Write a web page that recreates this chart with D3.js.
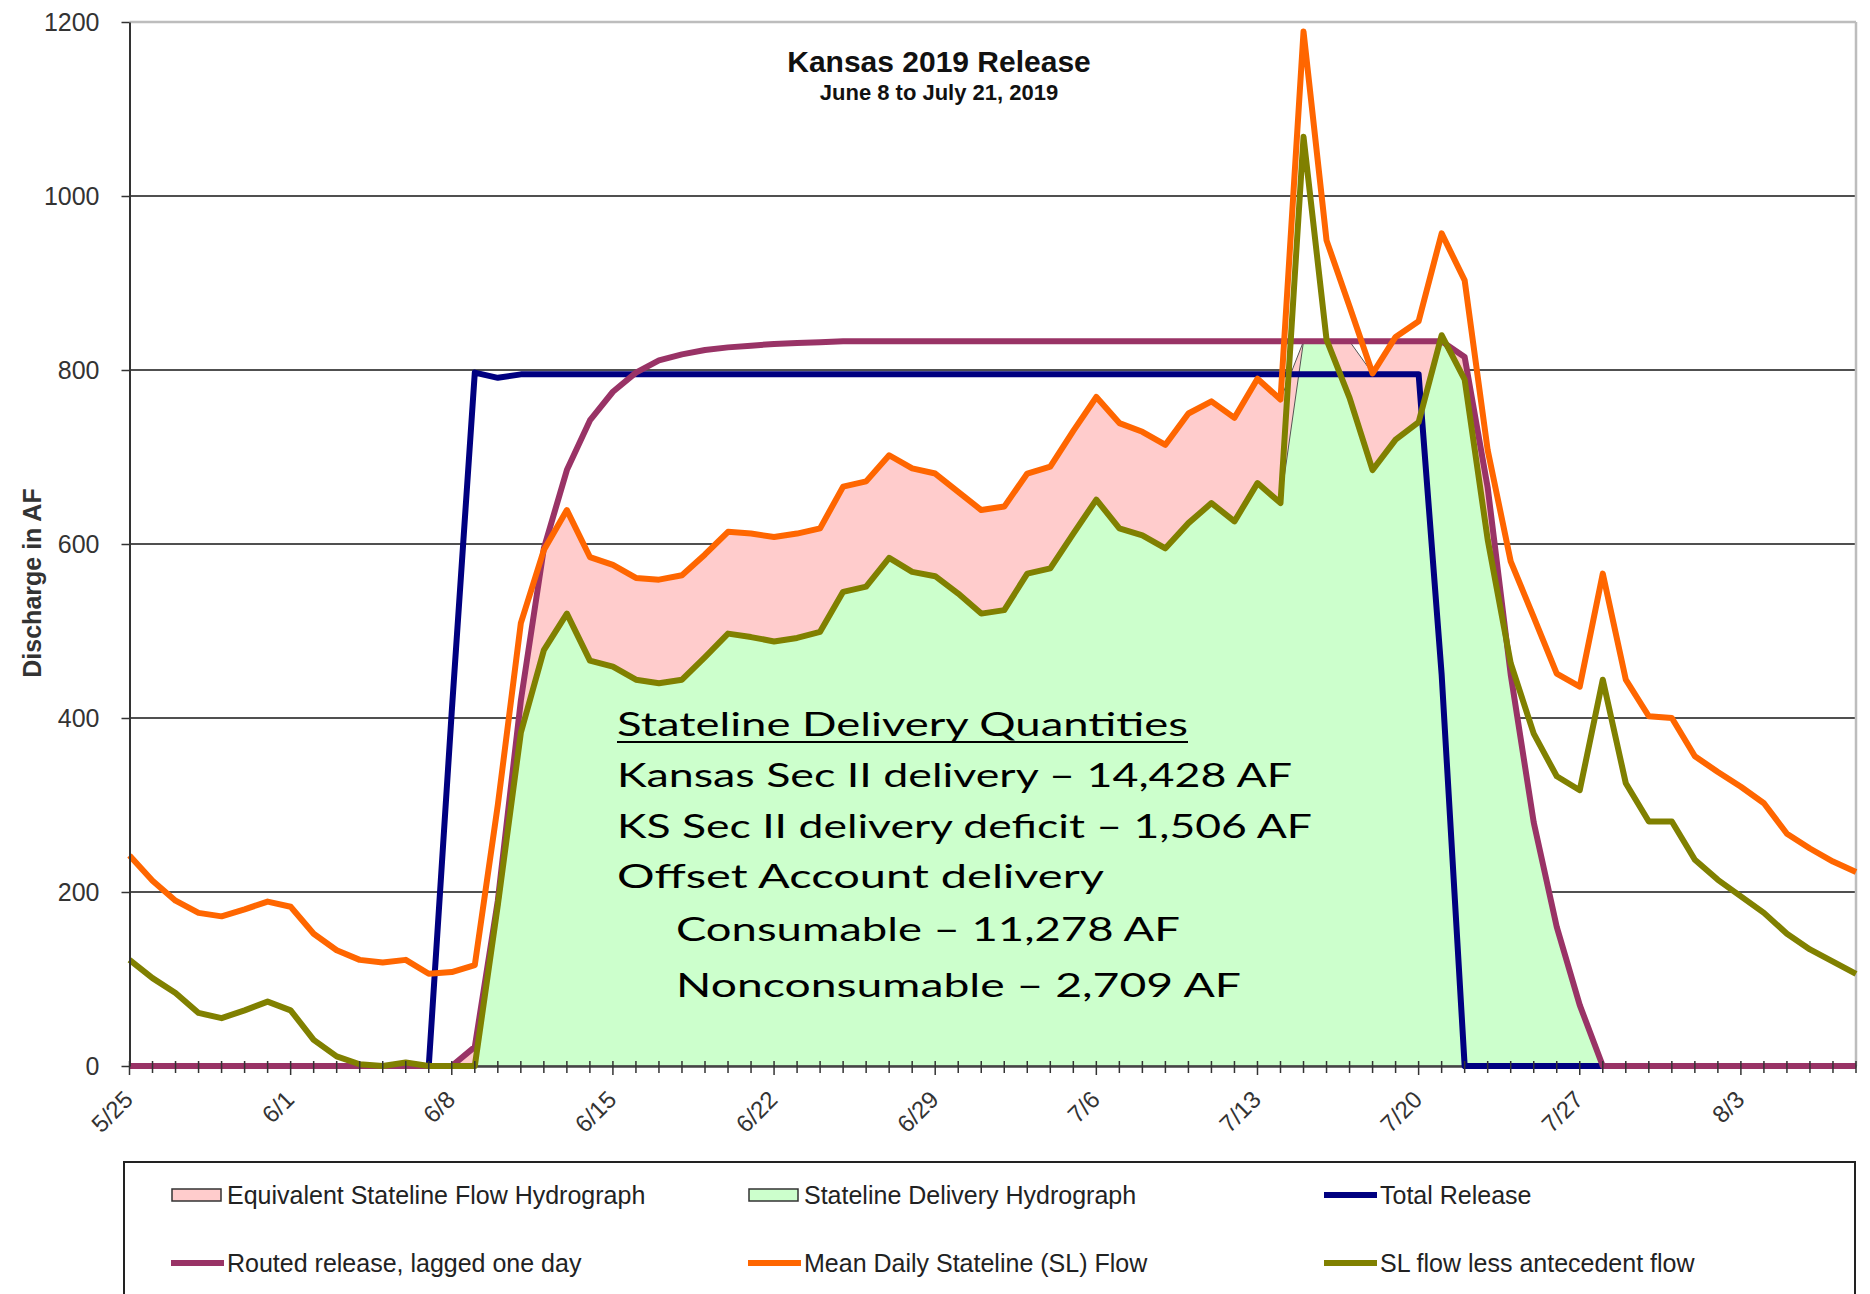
<!DOCTYPE html>
<html>
<head>
<meta charset="utf-8">
<script src="https://cdn.jsdelivr.net/npm/d3@7"></script>
<style>
  html, body { margin: 0; padding: 0; background: #fff; }
  svg { display: block; }
</style>
</head>
<body>
<div id="chart"></div>
<script>
const width = 1870;
const height = 1294;

// daily categories, 5/25 .. 8/8/2019
const firstDay = '2019/5/25';
const lastDay = '2019/8/8';
const tickLabels = ['5/25', '6/1', '6/8', '6/15', '6/22', '6/29', '7/6', '7/13', '7/20', '7/27', '8/3'];
const yTicks = [0, 200, 400, 600, 800, 1000, 1200];

// series, one value per day (AF)
const totalRelease = [
  0, 0, 0, 0, 0, 0, 0, 0, 0, 0,
  0, 0, 0, 0, 408, 797, 791, 795, 795, 795,
  795, 795, 795, 795, 795, 795, 795, 795, 795, 795,
  795, 795, 795, 795, 795, 795, 795, 795, 795, 795,
  795, 795, 795, 795, 795, 795, 795, 795, 795, 795,
  795, 795, 795, 795, 795, 795, 795, 450, 0, 0,
  0, 0, 0, 0, 0, 0, 0, 0, 0, 0,
  0, 0, 0, 0, 0, 0
];
const routedRelease = [
  0, 0, 0, 0, 0, 0, 0, 0, 0, 0,
  0, 0, 0, 0, 0, 22, 190, 420, 595, 685,
  742, 775, 797, 811, 818, 823, 826, 828, 830, 831,
  832, 833, 833, 833, 833, 833, 833, 833, 833, 833,
  833, 833, 833, 833, 833, 833, 833, 833, 833, 833,
  833, 833, 833, 833, 833, 833, 833, 833, 815, 665,
  450, 280, 160, 70, 0, 0, 0, 0, 0, 0,
  0, 0, 0, 0, 0, 0
];
const slFlow = [
  242, 213, 190, 176, 172, 180, 189, 183, 152, 133,
  122, 119, 122, 106, 108, 116, 300, 509, 593, 639,
  585, 576, 561, 559, 564, 588, 614, 612, 608, 612,
  618, 666, 672, 702, 687, 681, 660, 639, 643, 681,
  689, 730, 769, 739, 729, 714, 750, 764, 745, 790,
  766, 1189, 949, 873, 796, 838, 856, 957, 903, 708,
  580, 516, 451, 436, 566, 444, 402, 400, 356, 338,
  321, 302, 267, 250, 235, 223
];
const slLessAntecedent = [
  122, 101, 84, 61, 55, 64, 74, 64, 30, 11,
  2, 0, 4, 0, 0, 0, 185, 383, 478, 520,
  466, 459, 444, 440, 444, 470, 497, 493, 488, 492,
  499, 545, 551, 584, 568, 563, 543, 520, 524, 566,
  572, 612, 651, 618, 610, 595, 624, 647, 626, 670,
  647, 1068, 835, 768, 685, 720, 740, 840, 789, 605,
  463, 382, 333, 317, 444, 325, 281, 281, 237, 214,
  195, 176, 152, 134, 120, 106
];
// area series
const equivalentSL = [
  0, 0, 0, 0, 0, 0, 0, 0, 0, 0,
  0, 0, 0, 0, 0, 22, 190, 420, 593, 639,
  585, 576, 561, 559, 564, 588, 614, 612, 608, 612,
  618, 666, 672, 702, 687, 681, 660, 639, 643, 681,
  689, 730, 769, 739, 729, 714, 750, 764, 745, 790,
  766, 833, 833, 833, 796, 833, 833, 833, 815, 665,
  450, 280, 160, 70, 0, 0, 0, 0, 0, 0,
  0, 0, 0, 0, 0, 0
];
const deliveryHydro = [
  0, 0, 0, 0, 0, 0, 0, 0, 0, 0,
  0, 0, 0, 0, 0, 0, 185, 383, 478, 520,
  466, 459, 444, 440, 444, 470, 497, 493, 488, 492,
  499, 545, 551, 584, 568, 563, 543, 520, 524, 566,
  572, 612, 651, 618, 610, 595, 624, 647, 626, 670,
  647, 833, 833, 768, 685, 720, 740, 833, 789, 605,
  450, 280, 160, 70, 0, 0, 0, 0, 0, 0,
  0, 0, 0, 0, 0, 0
];

const legendNames = [
  'Equivalent Stateline Flow Hydrograph',
  'Stateline Delivery Hydrograph',
  'Total Release',
  'Routed release, lagged one day',
  'Mean Daily Stateline (SL) Flow',
  'SL flow less antecedent flow'
];

const noteLines = [
  'Stateline Delivery Quantities',
  'Kansas Sec II delivery \u2013 14,428 AF',
  'KS Sec II delivery deficit \u2013 1,506 AF',
  'Offset Account delivery',
  'Consumable \u2013 11,278 AF',
  'Nonconsumable \u2013 2,709 AF'
];

// styles
const colors = {
  pink: '#ffcccc',
  green: '#ccffcc',
  blue: '#000080',
  magenta: '#993366',
  orange: '#ff6600',
  olive: '#808000'
};
const legendStyle = [
  { kind: 'area', color: colors.pink },
  { kind: 'area', color: colors.green },
  { kind: 'line', color: colors.blue },
  { kind: 'line', color: colors.magenta },
  { kind: 'line', color: colors.orange },
  { kind: 'line', color: colors.olive }
];
const noteX = [617, 617, 617, 617, 676, 676];
const noteY = [736, 787, 838, 888, 941, 997];
const noteW = [571, 675, 695, 487, 504, 565];

const margin = { top: 22, right: 14, bottom: 228, left: 129.5 };
const plotRight = width - margin.right;
const plotBottom = height - margin.bottom;
const baseFont = '"Liberation Sans", Arial, sans-serif';

const parseDay = d3.utcParse('%Y/%m/%d');
const days = d3.utcDay.range(parseDay(firstDay), d3.utcDay.offset(parseDay(lastDay), 1));

const x = d3.scaleUtc()
  .domain([days[0], days[days.length - 1]])
  .range([margin.left, plotRight]);

const y = d3.scaleLinear()
  .domain([0, 1200])
  .range([plotBottom, margin.top]);

const svg = d3.select('#chart')
  .append('svg')
  .attr('width', width)
  .attr('height', height)
  .style('background', '#fff');

// gridlines and plot border
svg.append('g')
  .selectAll('line')
  .data(yTicks.filter(v => v > 0 && v < 1200))
  .enter()
  .append('line')
  .attr('x1', margin.left)
  .attr('x2', plotRight)
  .attr('y1', d => y(d))
  .attr('y2', d => y(d))
  .attr('stroke', '#505050')
  .attr('stroke-width', 2.2);

svg.append('line')
  .attr('x1', margin.left).attr('x2', plotRight)
  .attr('y1', y(1200)).attr('y2', y(1200))
  .attr('stroke', '#bdbdbd').attr('stroke-width', 2.5);
svg.append('line')
  .attr('x1', plotRight).attr('x2', plotRight)
  .attr('y1', y(1200)).attr('y2', y(0))
  .attr('stroke', '#bdbdbd').attr('stroke-width', 2.5);

// areas
const area = d3.area()
  .x((d, i) => x(days[i]))
  .y0(y(0))
  .y1(d => y(d));

svg.append('path')
  .datum(equivalentSL)
  .attr('d', area)
  .attr('fill', colors.pink)
  .attr('stroke', '#555')
  .attr('stroke-width', 1);

svg.append('path')
  .datum(deliveryHydro)
  .attr('d', area)
  .attr('fill', colors.green)
  .attr('stroke', '#555')
  .attr('stroke-width', 1);

// x axis line
const gx = svg.append('g')
  .attr('transform', `translate(0,${y(0)})`)
  .call(d3.axisBottom(x).tickValues(days).tickFormat('').tickSizeOuter(0));
gx.select('.domain').attr('stroke', '#444').attr('stroke-width', 2.5);
gx.selectAll('.tick').remove();

// series lines
const line = d3.line()
  .x((d, i) => x(days[i]))
  .y(d => y(d));

[
  [totalRelease, colors.blue],
  [routedRelease, colors.magenta],
  [slFlow, colors.orange],
  [slLessAntecedent, colors.olive]
].forEach(([vals, c]) => {
  svg.append('path')
    .datum(vals)
    .attr('d', line)
    .attr('fill', 'none')
    .attr('stroke', c)
    .attr('stroke-width', 6)
    .attr('stroke-linejoin', 'round');
});

// x ticks on top of lines
svg.append('g')
  .selectAll('line')
  .data(days)
  .enter()
  .append('line')
  .attr('x1', d => x(d))
  .attr('x2', d => x(d))
  .attr('y1', y(0) - 5)
  .attr('y2', (d, i) => y(0) + (i % 7 === 0 ? 9 : 7))
  .attr('stroke', '#333')
  .attr('stroke-width', 1.5);

svg.append('g')
  .selectAll('text')
  .data(tickLabels)
  .enter()
  .append('text')
  .attr('transform', d => `translate(${x(parseDay('2019/' + d)) + 5},${y(0) + 35}) rotate(-45)`)
  .attr('text-anchor', 'end')
  .attr('font-family', baseFont)
  .attr('font-size', 24)
  .attr('fill', '#333')
  .text(d => d);

// y axis
const gy = svg.append('g')
  .attr('transform', `translate(${margin.left},0)`)
  .call(d3.axisLeft(y).tickValues(yTicks).tickFormat(d3.format('d')).tickSize(8).tickPadding(22).tickSizeOuter(0));
gy.select('.domain').attr('stroke', '#333').attr('stroke-width', 2);
gy.selectAll('.tick line').attr('stroke', '#333').attr('stroke-width', 1.5);
gy.selectAll('.tick text')
  .attr('font-family', baseFont)
  .attr('font-size', 25)
  .attr('fill', '#333');

svg.append('text')
  .attr('transform', `translate(41,583) rotate(-90)`)
  .attr('text-anchor', 'middle')
  .attr('font-family', baseFont)
  .attr('font-weight', 'bold')
  .attr('font-size', 25)
  .attr('fill', '#333')
  .text('Discharge in AF');

// title
svg.append('text')
  .attr('x', 939).attr('y', 72)
  .attr('text-anchor', 'middle')
  .attr('font-family', baseFont)
  .attr('font-weight', 'bold')
  .attr('font-size', 30)
  .attr('fill', '#111')
  .text('Kansas 2019 Release');
svg.append('text')
  .attr('x', 939).attr('y', 100)
  .attr('text-anchor', 'middle')
  .attr('font-family', baseFont)
  .attr('font-weight', 'bold')
  .attr('font-size', 22)
  .attr('fill', '#111')
  .text('June 8 to July 21, 2019');

// delivery note
const note = svg.append('g');
noteLines.forEach((t, i) => {
  note.append('text')
    .attr('x', noteX[i])
    .attr('y', noteY[i])
    .attr('font-family', '"Century Gothic", Lato, sans-serif')
    .attr('font-size', 32)
    .attr('textLength', noteW[i])
    .attr('lengthAdjust', 'spacingAndGlyphs')
    .attr('fill', '#000')
    .text(t);
});
note.append('line')
  .attr('x1', noteX[0]).attr('x2', noteX[0] + noteW[0])
  .attr('y1', noteY[0] + 6).attr('y2', noteY[0] + 6)
  .attr('stroke', '#000').attr('stroke-width', 2);

// legend
svg.append('rect')
  .attr('x', 124).attr('y', 1162)
  .attr('width', 1731).attr('height', 160)
  .attr('fill', 'none')
  .attr('stroke', '#222')
  .attr('stroke-width', 2);

const legendCols = [171, 748, 1324];
const legendRows = [1195, 1263];
const legend = svg.append('g')
  .selectAll('g')
  .data(legendNames)
  .enter()
  .append('g')
  .attr('transform', (d, i) => `translate(${legendCols[i % 3]},${legendRows[Math.floor(i / 3)]})`);

legend.each(function (d, i) {
  const g = d3.select(this);
  const st = legendStyle[i];
  if (st.kind === 'area') {
    g.append('rect')
      .attr('x', 1).attr('y', -6)
      .attr('width', 49).attr('height', 12)
      .attr('fill', st.color)
      .attr('stroke', '#333')
      .attr('stroke-width', 1.5);
  } else {
    g.append('line')
      .attr('x1', 0).attr('x2', 53)
      .attr('y1', 0).attr('y2', 0)
      .attr('stroke', st.color)
      .attr('stroke-width', 6);
  }
  g.append('text')
    .attr('x', 56)
    .attr('y', 9)
    .attr('font-family', baseFont)
    .attr('font-size', 25)
    .attr('fill', '#222')
    .text(d);
});
</script>
</body>
</html>
